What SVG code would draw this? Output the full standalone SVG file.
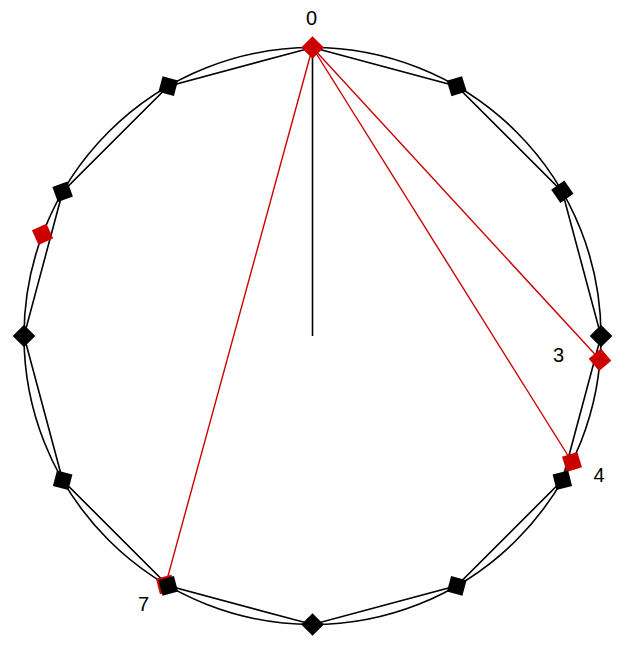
<svg xmlns="http://www.w3.org/2000/svg" width="624" height="672" viewBox="0 0 624 672">
<style>
.ln{fill:none;stroke:#000;stroke-width:1.6}
.rl{fill:none;stroke:#cc0000;stroke-width:1.4}
.bk{fill:#000}
.rd{fill:#cc0000}
.lb{font-family:"Liberation Sans",Arial,sans-serif;font-size:20px;fill:#000;text-anchor:middle}
</style>
<defs>
<rect id="sq" x="-8" y="-8" width="16" height="16"/>
</defs>
<rect width="624" height="672" fill="#fff"/>
<g id="connectors">
<circle class="ln" cx="312.5" cy="336" r="288.5"/>
<polygon class="ln" points="312.5,47.5 456.75,86.15 562.35,191.75 601,336 562.35,480.25 456.75,585.85 312.5,624.5 168.25,585.85 62.65,480.25 24,336 62.65,191.75 168.25,86.15"/>
<line class="ln" x1="312.5" y1="336" x2="312.5" y2="47.5"/>
<line class="rl" x1="312.5" y1="47.5" x2="600" y2="359.8"/>
<line class="rl" x1="312.5" y1="47.5" x2="572" y2="462"/>
<line class="rl" x1="312.5" y1="47.5" x2="165.7" y2="584.4"/>
</g>
<g id="red-markers">
<use href="#sq" class="rd" transform="translate(600,359.8) rotate(139.7)"/>
<use href="#sq" class="rd" transform="translate(572,462) rotate(163)"/>
<use href="#sq" class="rd" transform="translate(165.7,584.4) rotate(255.6)"/>
<use href="#sq" class="rd" transform="translate(42.5,234.3) rotate(335.6)"/>
</g>
<g id="n0"><use href="#sq" class="rd" transform="translate(312.5,47.5) rotate(45)"/></g>
<g id="n1"><use href="#sq" class="bk" transform="translate(456.75,86.15) rotate(73)"/></g>
<g id="n2"><use href="#sq" class="bk" transform="translate(562.35,191.75) rotate(55)"/></g>
<g id="n3"><use href="#sq" class="bk" transform="translate(601,336) rotate(45)"/></g>
<g id="n4"><use href="#sq" class="bk" transform="translate(562.35,480.25) rotate(76)"/></g>
<g id="n5"><use href="#sq" class="bk" transform="translate(456.75,585.85) rotate(15)"/></g>
<g id="n6"><use href="#sq" class="bk" transform="translate(312.5,624.5) rotate(45)"/></g>
<g id="n7"><use href="#sq" class="bk" transform="translate(168.25,585.85) rotate(75)"/></g>
<g id="n8"><use href="#sq" class="bk" transform="translate(62.65,480.25) rotate(15)"/></g>
<g id="n9"><use href="#sq" class="bk" transform="translate(24,336) rotate(45)"/></g>
<g id="n10"><use href="#sq" class="bk" transform="translate(62.65,191.75) rotate(70)"/></g>
<g id="n11"><use href="#sq" class="bk" transform="translate(168.25,86.15) rotate(15)"/></g>
<g id="labels">
<text class="lb" x="311.5" y="24.5">0</text>
<text class="lb" x="558.5" y="361.5">3</text>
<text class="lb" x="599" y="481.5">4</text>
<text class="lb" x="143.5" y="611">7</text>
</g>
</svg>
